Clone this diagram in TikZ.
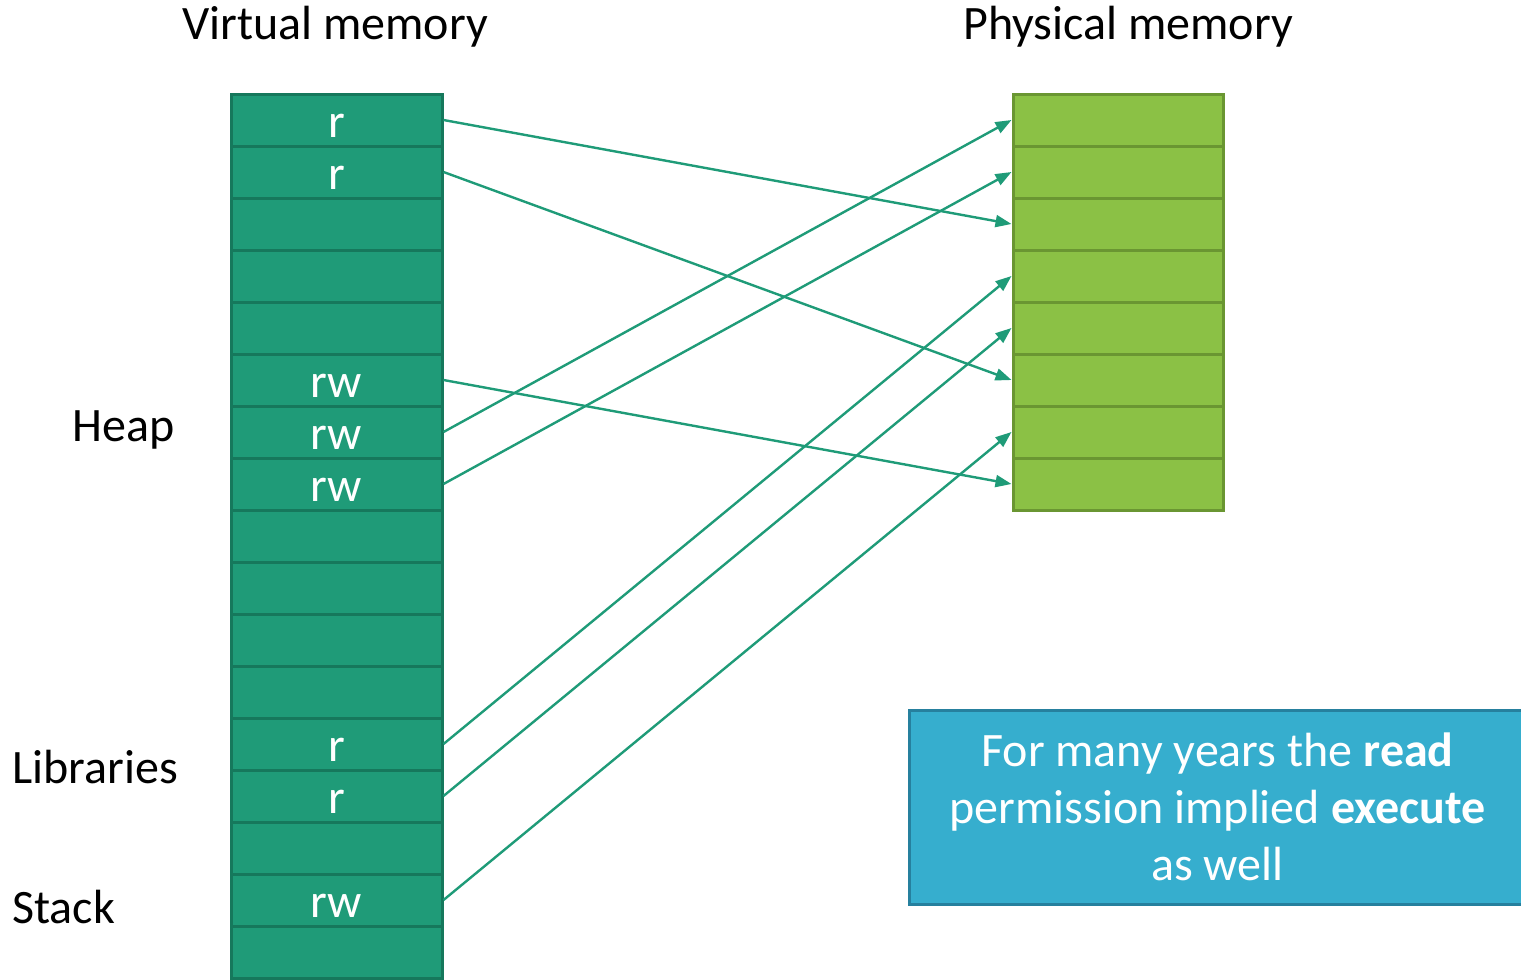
\documentclass[tikz,border=0pt]{standalone}
\usepackage{fontspec}
\setmainfont{Carlito}
\usetikzlibrary{arrows.meta}
\definecolor{vfill}{RGB}{31,155,120}
\definecolor{vline}{RGB}{22,120,92}
\definecolor{pfill}{RGB}{139,193,69}
\definecolor{pline}{RGB}{106,150,50}
\definecolor{nfill}{RGB}{54,174,206}
\definecolor{nline}{RGB}{38,128,158}
\tikzstyle{vcell}=[draw=vline, fill=vfill, line width=1.5pt, minimum width=105.5pt, minimum height=26pt, inner sep=0pt, text=white, font=\fontsize{24}{28}\selectfont, text height=20pt, text depth=3pt]
\tikzstyle{pcell}=[draw=pline, fill=pfill, line width=1.5pt, minimum width=105pt, minimum height=26pt, inner sep=0pt]
\tikzstyle{lbl}=[inner sep=0pt, font=\fontsize{24}{28}\selectfont]
\tikzstyle{note}=[draw=nline, fill=nfill, line width=1.5pt, minimum width=308pt, minimum height=97pt, inner sep=0pt, text=white, align=center, font=\fontsize{24}{28.5}\selectfont]
\tikzstyle{maparrow}=[draw=vfill, line width=1.2pt, -{Triangle[length=8pt,width=6pt]}]

\begin{document}
\begin{tikzpicture}[x=0.5pt, y=-0.5pt]
\useasboundingbox (0,0) rectangle (1521,980);
% the titles
\node[lbl, anchor=base] (vtitle) at (335, 39) {Virtual memory};
\node[lbl, anchor=base] (ptitle) at (1128, 39) {Physical memory};
% the virtual pages
\node[vcell] (V0) at (336.5, 120) {r};
\node[vcell] (V1) at (336.5, 172) {r};
\node[vcell] (V2) at (336.5, 224) {};
\node[vcell] (V3) at (336.5, 276) {};
\node[vcell] (V4) at (336.5, 328) {};
\node[vcell] (V5) at (336.5, 380) {rw};
\node[vcell] (V6) at (336.5, 432) {rw};
\node[vcell] (V7) at (336.5, 484) {rw};
\node[vcell] (V8) at (336.5, 536) {};
\node[vcell] (V9) at (336.5, 588) {};
\node[vcell] (V10) at (336.5, 640) {};
\node[vcell] (V11) at (336.5, 692) {};
\node[vcell] (V12) at (336.5, 744) {r};
\node[vcell] (V13) at (336.5, 796) {r};
\node[vcell] (V14) at (336.5, 848) {};
\node[vcell] (V15) at (336.5, 900) {rw};
\node[vcell] (V16) at (336.5, 952) {};
% the physical frames
\node[pcell] (P0) at (1118, 120) {};
\node[pcell] (P1) at (1118, 172) {};
\node[pcell] (P2) at (1118, 224) {};
\node[pcell] (P3) at (1118, 276) {};
\node[pcell] (P4) at (1118, 328) {};
\node[pcell] (P5) at (1118, 380) {};
\node[pcell] (P6) at (1118, 432) {};
\node[pcell] (P7) at (1118, 484) {};
% the regions
\node[lbl, anchor=base east] (heap) at (175, 441) {Heap};
\node[lbl, anchor=base west] (libs) at (12, 783) {Libraries};
\node[lbl, anchor=base west] (stack) at (12, 923) {Stack};
% the mappings
\draw[maparrow] (V0.east) -- (P2.west);
\draw[maparrow] (V1.east) -- (P5.west);
\draw[maparrow] (V5.east) -- (P7.west);
\draw[maparrow] (V6.east) -- (P0.west);
\draw[maparrow] (V7.east) -- (P1.west);
\draw[maparrow] (V12.east) -- (P3.west);
\draw[maparrow] (V13.east) -- (P4.west);
\draw[maparrow] (V15.east) -- (P6.west);
% the remark
\node[note, anchor=west] (remark) at (908, 807) {For many years the \textbf{read}\\permission implied \textbf{execute}\\as well};
\end{tikzpicture}
\end{document}
